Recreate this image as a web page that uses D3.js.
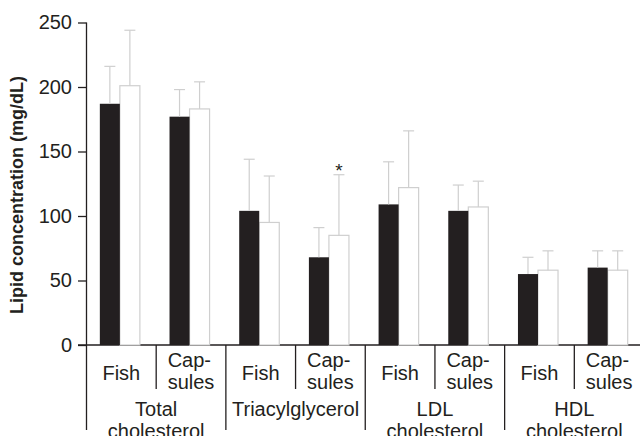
<!DOCTYPE html>
<html>
<head>
<meta charset="utf-8">
<script src="https://cdn.jsdelivr.net/npm/d3@7"></script>
<style>
  body { margin: 0; background: #fff; }
  svg { display: block; font-family: "Liberation Sans", Arial, Helvetica, sans-serif; }
</style>
</head>
<body>
<div id="chart"></div>
<script>
// groups along the x axis, each split into two subgroups
const groups = ['Total|cholesterol', 'Triacylglycerol', 'LDL|cholesterol', 'HDL|cholesterol']
const subgroups = ['Fish', 'Cap-|sules']

// black and white bars (mg/dL), ordered group by group, subgroup by subgroup
const blackValues = [187, 177, 104, 68, 109, 104, 55, 60]
const whiteValues = [201, 183, 95, 85, 122, 107, 58, 58]
// upper error (SD)
const blackSD = [29, 21, 40, 23, 33, 20, 13, 13]
const whiteSD = [43, 21, 36, 47, 44, 20, 15, 15]
// significance marks on the white bars
const whiteMark = ['', '', '', '*', '', '', '', '']

const yTicks = [0, 50, 100, 150, 200, 250]

const width = 640, height = 436
const margin = { left: 86.5, top: 22.5, bottom: 91, right: -4 }
const ink = '#231f20', grey = '#cfcfcf'
const fontSize = '20px'

const svg = d3.select('#chart').append('svg')
    .attr('width', width)
    .attr('height', height)

// one band for every subgroup cell
const cells = []
groups.forEach((g, gi) => subgroups.forEach((s, si) => cells.push({ g: gi, s: si, i: gi * subgroups.length + si })))

const xScale = d3.scaleBand()
    .domain(d3.range(cells.length))
    .range([margin.left, width - margin.right])

const groupScale = d3.scaleBand()
    .domain(d3.range(groups.length))
    .range([margin.left, width - margin.right])

const inner = d3.scaleBand()
    .domain(['black', 'white'])
    .range([0, xScale.bandwidth()])
    .paddingInner(0)
    .paddingOuter(0.74)
    .align(0.45)

const yScale = d3.scaleLinear()
    .domain([0, 250])
    .range([height - margin.bottom, margin.top])

const y0 = yScale(0)

// y axis
const yAxis = d3.axisLeft(yScale)
    .tickValues(yTicks)
    .tickSize(8.5)
    .tickPadding(6)
    .tickSizeOuter(0)

const yg = svg.append('g')
    .attr('transform', 'translate(' + margin.left + ',0)')
    .call(yAxis)
yg.select('.domain').remove()
yg.selectAll('line').attr('stroke', ink).attr('stroke-width', 1.3)
yg.selectAll('text')
    .attr('fill', ink)
    .style('font-size', fontSize)
    .style('font-family', '"Liberation Sans", Arial, sans-serif')

// y axis line, runs down past the baseline to divide the groups
svg.append('line')
    .attr('x1', margin.left).attr('x2', margin.left)
    .attr('y1', margin.top).attr('y2', 430)
    .attr('stroke', ink).attr('stroke-width', 1.3)

// baseline
svg.append('line')
    .attr('x1', margin.left - 8.5).attr('x2', width)
    .attr('y1', y0).attr('y2', y0)
    .attr('stroke', ink).attr('stroke-width', 1.3)

// y label
svg.append('text')
    .attr('transform', 'translate(23,' + 195 + ') rotate(-90)')
    .attr('text-anchor', 'middle')
    .attr('fill', ink)
    .style('font-size', '18px')
    .style('font-weight', 'bold')
    .text('Lipid concentration (mg/dL)')

// bars
const bars = svg.append('g')

bars.selectAll('.bar-w')
    .data(cells)
    .enter().append('rect')
    .attr('x', d => xScale(d.i) + inner('white'))
    .attr('y', d => yScale(whiteValues[d.i]))
    .attr('width', inner.bandwidth())
    .attr('height', d => y0 - yScale(whiteValues[d.i]))
    .attr('fill', '#fff')
    .attr('stroke', grey)
    .attr('stroke-width', 1.2)

bars.selectAll('.bar-b')
    .data(cells)
    .enter().append('rect')
    .attr('x', d => xScale(d.i) + inner('black'))
    .attr('y', d => yScale(blackValues[d.i]))
    .attr('width', inner.bandwidth())
    .attr('height', d => y0 - yScale(blackValues[d.i]))
    .attr('fill', ink)

// error bars (upper only)
const errs = []
cells.forEach(d => {
    errs.push({ cx: xScale(d.i) + inner('black') + inner.bandwidth() / 2, v: blackValues[d.i], sd: blackSD[d.i] })
    errs.push({ cx: xScale(d.i) + inner('white') + inner.bandwidth() / 2, v: whiteValues[d.i], sd: whiteSD[d.i] })
})
const eg = svg.append('g').attr('stroke', grey).attr('stroke-width', 1.2)
eg.selectAll('.err')
    .data(errs)
    .enter().append('line')
    .attr('x1', d => d.cx).attr('x2', d => d.cx)
    .attr('y1', d => yScale(d.v)).attr('y2', d => yScale(d.v + d.sd))
eg.selectAll('.cap')
    .data(errs)
    .enter().append('line')
    .attr('x1', d => d.cx - 5.5).attr('x2', d => d.cx + 5.5)
    .attr('y1', d => yScale(d.v + d.sd)).attr('y2', d => yScale(d.v + d.sd))

// significance marks
svg.selectAll('.mark')
    .data(cells.filter(d => whiteMark[d.i]))
    .enter().append('text')
    .attr('x', d => xScale(d.i) + inner('white') + inner.bandwidth() / 2)
    .attr('y', d => yScale(whiteValues[d.i] + whiteSD[d.i]) + 2)
    .attr('text-anchor', 'middle')
    .attr('fill', ink)
    .style('font-size', '19px')
    .text(d => whiteMark[d.i])

// subgroup separators (short) and group separators (long)
svg.selectAll('.sep-s')
    .data(cells.filter(d => d.s === 1))
    .enter().append('line')
    .attr('x1', d => xScale(d.i)).attr('x2', d => xScale(d.i))
    .attr('y1', y0).attr('y2', 389)
    .attr('stroke', ink).attr('stroke-width', 1.3)

svg.selectAll('.sep-g')
    .data(d3.range(1, groups.length))
    .enter().append('line')
    .attr('x1', d => groupScale(d)).attr('x2', d => groupScale(d))
    .attr('y1', y0).attr('y2', 430)
    .attr('stroke', ink).attr('stroke-width', 1.3)

// subgroup labels
const subLabels = svg.selectAll('.sub')
    .data(cells)
    .enter().append('text')
    .attr('fill', ink)
    .style('font-size', fontSize)
subLabels.each(function (d) {
    const lines = subgroups[d.s].split('|')
    const t = d3.select(this)
    const cx = xScale(d.i) + xScale.bandwidth() / 2
    const top = lines.length === 1 ? 380 : 367
    lines.forEach((l, k) => {
        t.append('tspan').attr('x', cx).attr('y', top + k * 21.5).text(l)
    })
    if (lines.length === 1) {
        t.attr('text-anchor', 'middle')
    } else {
        // left aligned block, centred under the cell
        const w = this.getBBox().width
        t.selectAll('tspan').attr('x', cx - w / 2)
    }
})

// group labels
svg.selectAll('.grp')
    .data(groups)
    .enter().append('text')
    .attr('text-anchor', 'middle')
    .attr('fill', ink)
    .style('font-size', fontSize)
    .each(function (g, gi) {
        const cx = groupScale(gi) + groupScale.bandwidth() / 2
        g.split('|').forEach((l, k) => {
            d3.select(this).append('tspan').attr('x', cx).attr('y', 416 + k * 22).text(l)
        })
    })
</script>
</body>
</html>
